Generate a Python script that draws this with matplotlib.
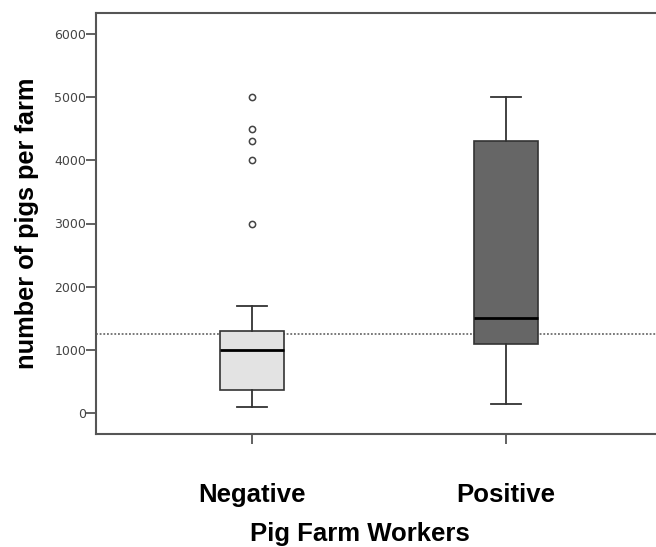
import matplotlib.pyplot as plt

# values
groups = ['Negative', 'Positive']
whisker_low = [100, 150]
q1 = [360, 1100]
medians = [1000, 1500]
q3 = [1300, 4300]
whisker_high = [1700, 5000]
outliers = [[3000, 4000, 4300, 4500, 5000], []]
box_colors = ['#e3e3e3', '#666666']
reference_line = 1250
y_ticks = [0, 1000, 2000, 3000, 4000, 5000, 6000]

stats = []
for i, name in enumerate(groups):
    stats.append({'label': name, 'whislo': whisker_low[i], 'q1': q1[i],
                  'med': medians[i], 'q3': q3[i], 'whishi': whisker_high[i],
                  'fliers': outliers[i]})

fig = plt.figure(figsize=(6.56, 5.47), dpi=100)
ax = fig.add_axes([96 / 656, 1 - 434 / 547, 566 / 656, 421 / 547])

positions = [1, 2]
bp = ax.bxp(stats, positions=positions, widths=0.25, patch_artist=True,
            capwidths=0.12,
            boxprops=dict(edgecolor='#333333', linewidth=1.2),
            medianprops=dict(color='black', linewidth=2),
            whiskerprops=dict(color='#333333', linewidth=1.3),
            capprops=dict(color='#333333', linewidth=1.3),
            flierprops=dict(marker='o', markersize=4.5, markerfacecolor='white',
                            markeredgecolor='#444444', markeredgewidth=1.1))
for patch, color in zip(bp['boxes'], box_colors):
    patch.set_facecolor(color)

ax.axhline(reference_line, color='#555555', linestyle=(0, (1.2, 1.2)),
           linewidth=1.1, zorder=0)

ax.set_xlim(0.386, 2.614)
ax.set_ylim(-330, 6330)
ax.set_yticks(y_ticks)
ax.set_yticklabels([str(v) for v in y_ticks], fontsize=9, color='#444444',
                   fontfamily='DejaVu Sans')
ax.set_xticks(positions)
ax.set_xticklabels(groups, fontsize=18.5, fontweight='bold',
                   fontfamily='Liberation Sans')
ax.tick_params(axis='y', length=7, width=1.3, color='#555555', pad=0)
ax.tick_params(axis='x', length=7, width=1.3, color='#555555', pad=28)

for side in ['left', 'bottom', 'top', 'right']:
    ax.spines[side].set_color('#555555')
    ax.spines[side].set_linewidth(1.5)

ax.set_ylabel('number of pigs per farm', fontsize=18.3, fontweight='bold',
              fontfamily='Liberation Sans', labelpad=11)
ax.set_xlabel('Pig Farm Workers', fontsize=18.5, fontweight='bold',
              fontfamily='Liberation Sans')
ax.xaxis.set_label_coords(0.466, -0.21)

plt.savefig('out.png', dpi=100)
